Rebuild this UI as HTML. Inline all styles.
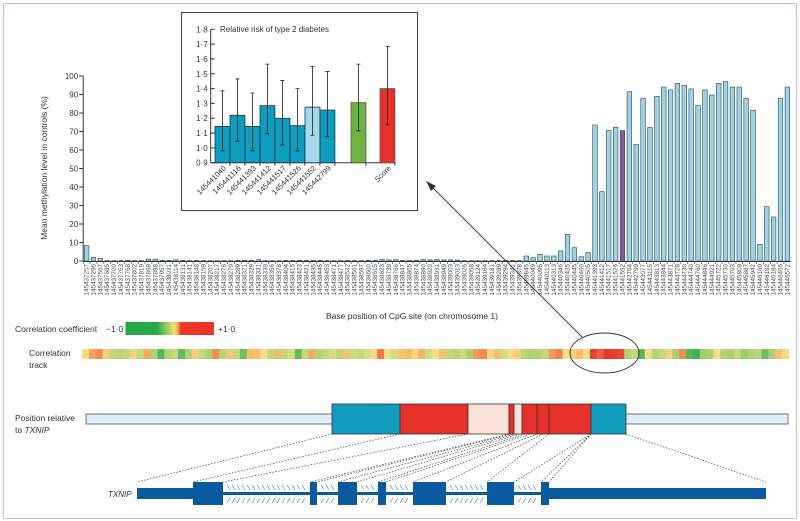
<!DOCTYPE html>
<html><head><meta charset="utf-8">
<style>
html,body{margin:0;padding:0;background:#fff;}
svg{display:block;font-family:"Liberation Sans",sans-serif;}
</style></head>
<body>
<svg id="fig" width="800" height="521" viewBox="0 0 800 521" xmlns="http://www.w3.org/2000/svg">
<rect x="3.5" y="3.5" width="793" height="515" fill="#fff" stroke="#d9b9c9" stroke-width="1"/>
<g id="main"></g>
<g id="inset"></g>
<g id="corr"></g>
<g id="gene"></g>
</svg>
<script>
// ---------- main chart data ----------
const cpgLabels = ["145437257","145437296","145437567","145437685","145437700","145437753","145437768","145437802","145437819","145437868","145437898","145437957","145438031","145438114","145438131","145438141","145438148","145438159","145438207","145438217","145438276","145438279","145438289","145438321","145438329","145438331","145438339","145438356","145438378","145438404","145438415","145438423","145438431","145438435","145438445","145438453",
"145438471","145438477","145438532","145438561","145438597","145438600","145438615","145438623","145438739","145438766","145438847","145438865","145438874","145438890","145438920","145438931","145438949","145439003","145439013","145439026","145439058","145439124","145439164","145439181","145439289","145439294","145439341","145439378","145439845","145440049","145440095","145440113",
"145440313","145440346","145440435","145440445","145440460","145440505",
"145441393","145441412","145441517","145441526","145441552","145442764","145442799","145443077","145443115","145443813","145443844","145443871","145444728","145444730","145444740","145444760","145444846","145444921","145445722","145445730","145445763","145445809","145445887","145445942","145446169","145446182","145446184","145446465","145446572"];
const methylation = [8.3,2,1.5,0.2,0.2,0.2,0.4,0.2,0.2,1,1,0.3,0.3,0.6,0.4,0.2,0.3,0.2,0.2,0.2,0.2,0.2,0.3,0.4,0.3,0.7,0.2,0.2,0.2,0.3,0.3,0.4,0.3,0.3,0.3,0.2,
0.2,0.2,0.3,0.2,0.2,0.3,0.3,0.8,0.6,0.7,0.3,0.3,0.3,0.7,0.6,0.8,0.6,0.6,0.5,0.2,0.2,0.2,0.2,0.2,0.2,0.3,0.3,0.2,2.7,1.8,3.6,2.7,
2.7,5.4,14.4,7.2,2.3,4.5,
73.5,37.5,70.5,72.3,70.5,91.5,63,88,72.3,89,94,92.5,96,95,93,84,92.5,89.7,96,97,94,94,88,81.5,9,29.4,23.8,88,94];
const highlightIndex = 78;
const yTicks = [0,10,20,30,40,50,60,70,80,90,100];
const correlation = [0.1,0.5,0.6,0.2,-0.3,-0.35,-0.3,0.15,-0.3,0.45,-0.4,-0.8,-0.4,-0.3,-0.75,-0.4,0.2,-0.3,-0.45,0.6,-0.35,0.25,-0.3,-0.7,0.35,0.3,0.1,-0.3,0.4,-0.3,-0.2,-0.75,-0.3,0.45,-0.4,-0.3,-0.2,-0.35,0.3,-0.25,-0.3,-0.2,0.1,0.7,0.1,-0.2,0.3,0.35,0.15,0.4,-0.2,0.05,0.3,-0.3,-0.35,-0.25,-0.45,0.55,0.6,0.15,0.3,-0.2,0.1,0.2,-0.35,-0.45,-0.4,-0.3,0.55,0.65,0.1,0.2,0.35,0.1,0.9,0.8,0.95,0.92,0.88,-0.4,-0.3,-0.8,0.1,-0.4,-0.3,0.15,-0.45,0.6,-0.8,-0.9,-0.5,-0.45,0.1,-0.4,-0.45,-0.3,-0.5,-0.4,-0.35,-0.7,-0.45,0.3,0.1];

// ---------- inset data ----------
const riskLabels = ["145441040","145441116","145441393","145441412","145441517","145441526","145441552","145442799","","Score"];
const riskValues = [1.145,1.22,1.145,1.285,1.2,1.15,1.275,1.255,1.305,1.40];
const riskLow = [0.98,1.045,0.98,1.095,1.02,0.98,1.085,1.075,1.115,1.155];
const riskHigh = [1.385,1.465,1.37,1.565,1.455,1.40,1.55,1.515,1.565,1.685];
const riskTicks = [0.9,1.0,1.1,1.2,1.3,1.4,1.5,1.6,1.7,1.8];

const NS="http://www.w3.org/2000/svg";
function mk(tag, attrs, parent, text){const e=document.createElementNS(NS,tag);for(const k in attrs)e.setAttribute(k,attrs[k]);if(text!==undefined)e.textContent=text;parent.appendChild(e);return e;}

// ---------- main chart ----------
const main=document.getElementById('main');
const X0=83.2, X1=790.8, Y0=261, Y100=76;
const bw=(X1-X0)/cpgLabels.length;
const xC=i=>X0+bw*(i+0.5);
const yS=v=>Y0-(v/100)*(Y0-Y100);
let ax=mk('line',{x1:X0,y1:Y100,x2:X0,y2:Y0,stroke:'#333','stroke-width':1},main);


yTicks.forEach(t=>{
  const tk=mk('line',{x1:X0-4,y1:yS(t),x2:X0,y2:yS(t),stroke:'#333','stroke-width':1},main);
  
  
  const tl=mk('text',{x:X0-5,y:yS(t)+3,'font-size':8,'text-anchor':'end',fill:'#333'},main,String(t));
  
  
});
let xa=mk('line',{x1:X0,y1:Y0+0.5,x2:X1,y2:Y0+0.5,stroke:'#333','stroke-width':1},main);


methylation.forEach((v,i)=>{
  const x=xC(i);
  const r=mk('rect',{x:x-2.3,y:yS(v),width:4.6,height:Math.max(0.3,Y0-yS(v)),fill:i===highlightIndex?'#8a5a98':'#9fd3e3',stroke:'#2a4a55','stroke-width':0.6},main);
  
  
  const tk=mk('line',{x1:X0+bw*i,y1:Y0,x2:X0+bw*i,y2:Y0+3,stroke:'#333','stroke-width':0.6},main);
  
  
  const tl=mk('text',{x:0,y:0,'font-size':6.3,'text-anchor':'end',fill:'#555',transform:`translate(${x+2},${Y0+3}) rotate(-90)`},main,cpgLabels[i]);
  
  
});
let yt=mk('text',{x:0,y:0,'font-size':8.5,'text-anchor':'middle',fill:'#333',transform:'translate(47,168) rotate(-90)'},main,'Mean methylation level in controls (%)');


let xt=mk('text',{x:412,y:319,'font-size':8.5,'text-anchor':'middle',fill:'#333'},main,'Base position of CpG site (on chromosome 1)');



// ---------- inset ----------
const inset=document.getElementById('inset');
let ib=mk('rect',{x:181.5,y:12.5,width:236,height:198,fill:'#fff',stroke:'#444','stroke-width':1},inset);


const IX=210.7, IY0=162.7, IY1=29.3;
const ry=v=>IY0-(v-0.9)/(0.9)*(IY0-IY1);
const barX=[215,230,245,260,275,290,305,320,351,380];
const bwI=14.9;
let iax=mk('line',{x1:IX,y1:IY1,x2:IX,y2:IY0,stroke:'#333'},inset);


riskTicks.forEach(t=>{
  const tk=mk('line',{x1:IX,y1:ry(t),x2:IX+4,y2:ry(t),stroke:'#333'},inset);
  
  
  const tl=mk('text',{x:IX-3,y:ry(t)+3,'font-size':8,'text-anchor':'end',fill:'#333'},inset,t.toFixed(1).replace('.','·'));
  
  
});
let ixa=mk('line',{x1:IX,y1:IY0,x2:395,y2:IY0,stroke:'#333'},inset);


let itl=mk('text',{x:220,y:32,'font-size':8,fill:'#333'},inset,'Relative risk of type 2 diabetes');


riskValues.forEach((v,i)=>{
  const x=barX[i];
  let fill=i<8?'#0e9cbf':(i===8?'#6db33f':'#e8302a');
  if(i===6) fill='#a6d9e8';
  const r=mk('rect',{x:x,y:ry(v),width:bwI,height:IY0-ry(v),fill:fill,stroke:i<8?'#0b3a4a':'#555','stroke-width':0.8},inset);
  
  
  const cx=x+bwI/2;
  const e=mk('path',{d:`M${cx},${ry(riskHigh[i])}V${ry(riskLow[i])}M${cx-2},${ry(riskHigh[i])}H${cx+2}M${cx-2},${ry(riskLow[i])}H${cx+2}`,stroke:'#222','stroke-width':0.8,fill:'none'},inset);
  
  
  const tk=mk('line',{x1:x+bwI,y1:IY0,x2:x+bwI,y2:IY0+3,stroke:'#333'},inset);
  
  
  if(riskLabels[i]){
    const tl=mk('text',{x:0,y:0,'font-size':7.5,'text-anchor':'end',fill:'#333',transform:`translate(${cx+4},${IY0+6}) rotate(-45)`},inset,riskLabels[i]);
    
    
  }
});

// ---------- correlation ----------
const corr=document.getElementById('corr');
function corrColor(v){
  const stops=[[-1,[42,168,74]],[-0.5,[160,205,110]],[0,[245,233,140]],[0.4,[247,180,100]],[0.7,[240,120,74]],[1,[232,38,42]]];
  for(let k=0;k<stops.length-1;k++){const a=stops[k],b=stops[k+1];if(v<=b[0]){const t=(v-a[0])/(b[0]-a[0]);return 'rgb('+a[1].map((c,j)=>Math.round(c+(b[1][j]-c)*t)).join(',')+')';}}
  return 'rgb(232,38,42)';
}
const defs=mk('defs',{},corr);
const lg=mk('linearGradient',{id:'cg',x1:0,x2:1,y1:0,y2:0},defs);
[[0,'#22a84a'],[0.36,'#2aa84a'],[0.48,'#a6cf62'],[0.55,'#f5e27a'],[0.6,'#f39a4a'],[0.62,'#ee3a2a'],[1,'#ee2f26']].forEach(s=>mk('stop',{offset:s[0],'stop-color':s[1]},lg));
let cl=mk('text',{x:15,y:332,'font-size':8.5,fill:'#333'},corr,'Correlation coefficient');


let cm=mk('text',{x:106,y:332,'font-size':8.5,fill:'#333'},corr,'−1·0');


let cr=mk('rect',{x:125.5,y:322,width:88.5,height:13,fill:'url(#cg)'},corr);


let cp=mk('text',{x:218,y:332,'font-size':8.5,fill:'#333'},corr,'+1·0');


let ct1=mk('text',{x:29,y:356,'font-size':8.5,fill:'#333'},corr,'Correlation');


let ct2=mk('text',{x:29,y:368,'font-size':8.5,fill:'#333'},corr,'track');


const TX0=82, TX1=789, tw=(TX1-TX0)/correlation.length;
correlation.forEach((v,i)=>{
  const r=mk('rect',{x:TX0+tw*i,y:349,width:tw+0.3,height:10,fill:corrColor(v)},corr);
  
  
});
let el=mk('ellipse',{cx:604.5,cy:353,rx:34.5,ry:20,fill:'none',stroke:'#333','stroke-width':0.9},corr);


let ar=mk('line',{x1:582,y1:337,x2:430,y2:185,stroke:'#333','stroke-width':0.9},corr);


let ah=mk('polygon',{points:'426,181 436,186 431,191',fill:'#333'},corr);



// ---------- gene ----------
const gene=document.getElementById('gene');
let pl1=mk('text',{x:15,y:421,'font-size':8.5,fill:'#333'},gene,'Position relative');


let pl2=mk('text',{x:15,y:433,'font-size':8.5,fill:'#333'},gene);


pl2.innerHTML='to <tspan font-style="italic">TXNIP</tspan>';
let lb=mk('rect',{x:86,y:414,width:702,height:10,fill:'#dceef6',stroke:'#555','stroke-width':0.8},gene);


[[332,400,'#0e9cbf'],[400,468,'#e8302a'],[468,509,'#fbe3da'],[509,514,'#e8302a'],[514,522,'#fbe3da'],[522,537,'#e8302a'],[537,549,'#e8302a'],[549,591,'#e8302a'],[591,626,'#0e9cbf']].forEach(s=>{
  const r=mk('rect',{x:s[0],y:404,width:s[1]-s[0],height:30,fill:s[2],stroke:'#333','stroke-width':0.8},gene);
  
  
});
[[332,137],[400,193],[468,223],[509,310],[512,317],[516,338],[520,357],[525,378],[530,386],[537,413],[543,446],[549,487],[591,514],[591,541],[591,549],[626,766]].forEach(l=>{
  const d=mk('line',{x1:l[0],y1:434,x2:l[1],y2:482,stroke:'#444','stroke-width':0.7,'stroke-dasharray':'1.5,1.5'},gene);
  
  
});
let gl=mk('text',{x:108,y:497,'font-size':8,'font-style':'italic',fill:'#333'},gene,'TXNIP');


let il=mk('rect',{x:137,y:492,width:412,height:3,fill:'#0a5aa0'},gene);


let u1=mk('rect',{x:137,y:488,width:56,height:11,fill:'#0a5aa0'},gene);


let u2=mk('rect',{x:549,y:488,width:217,height:11,fill:'#0a5aa0'},gene);


const introns=[[223,310],[317,338],[357,378],[386,413],[446,487],[514,541]];
introns.forEach(r=>{
  for(let x=r[0]+4;x<r[1]-3;x+=5){
    const h1=mk('line',{x1:x,y1:485,x2:x+3,y2:490,stroke:'#4a8ac0','stroke-width':0.7},gene);
    
    
    const h2=mk('line',{x1:x,y1:503,x2:x+3,y2:498,stroke:'#4a8ac0','stroke-width':0.7},gene);
    
    
  }
});
[[193,223],[310,317],[338,357],[378,386],[413,446],[487,514],[541,549]].forEach(e=>{
  const r=mk('rect',{x:e[0],y:482,width:e[1]-e[0],height:23,fill:'#0a5aa0'},gene);
  
  
});
</script>
</body></html>
